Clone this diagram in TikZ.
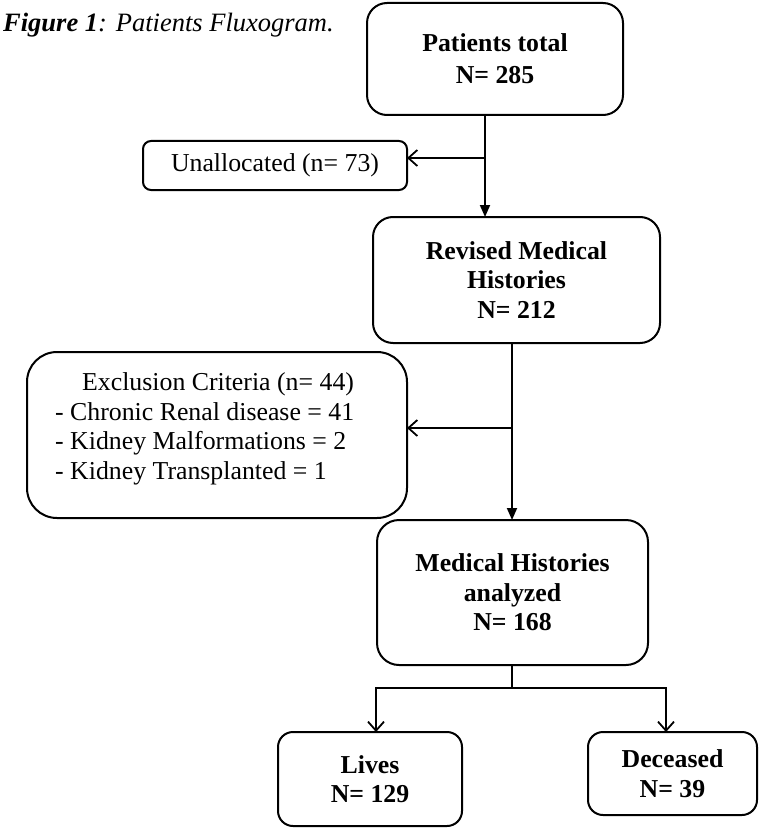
\documentclass[tikz,border=0pt]{standalone}
\usepackage{fontspec}
\setmainfont{Liberation Serif}
\usetikzlibrary{arrows.meta}
\begin{document}
\begin{tikzpicture}[x=1pt,y=-1pt,
  box/.style={draw, line width=2pt, inner sep=0pt, outer sep=0pt, align=center},
  big/.style={font=\fontsize{25.8}{29.5}\selectfont\bfseries},
  reg/.style={font=\fontsize{25.8}{29.5}\selectfont},
  fa/.style={line width=1.8pt, -{Triangle[length=12pt,width=10pt]}},
  oa/.style={line width=1.8pt, -{Straight Barb[length=9pt,width=16pt,line width=1.8pt]}},
  ln/.style={line width=1.8pt}]
\useasboundingbox (0,0) rectangle (758,829);
\node[anchor=base west, inner sep=0pt, font=\fontsize{26.5}{30}\selectfont] (title) at (3,32)
  {\textbf{\textit{Figure 1}}\textit{: Patients Fluxogram.}};
\node[box, font=\fontsize{25.8}{32}\selectfont\bfseries, rounded corners=20pt, minimum width=256pt, minimum height=112pt] (pt) at (495,59) {Patients total\\N= 285};
\node[box, reg, rounded corners=8pt, minimum width=264pt, minimum height=49pt] (un) at (275,165.5) {Unallocated (n= 73)};
\node[box, big, rounded corners=20pt, minimum width=287pt, minimum height=126pt] (rv) at (516.5,280) {Revised Medical\\Histories\\N= 212};
\node[box, rounded corners=30pt, minimum width=380pt, minimum height=166pt] (ex) at (217,435) {};
\node[reg, anchor=west, inner sep=0pt, align=left] (extext) at (55,429)
  {\hspace*{27pt}Exclusion Criteria (n= 44)\\- Chronic Renal disease = 41\\- Kidney Malformations = 2\\- Kidney Transplanted = 1};
\node[box, big, rounded corners=22pt, minimum width=271pt, minimum height=145pt] (md) at (512.5,592.5) {Medical Histories\\analyzed\\N= 168};
\node[box, big, rounded corners=15pt, minimum width=184pt, minimum height=94pt] (lv) at (370,779) {Lives\\N= 129};
\node[box, big, rounded corners=15pt, minimum width=169pt, minimum height=83pt] (dc) at (672.5,773.5) {Deceased\\N= 39};
\coordinate (j1) at (485,158);
\coordinate (j2) at (512,428);
\coordinate (j3) at (512,688);
\coordinate (bl) at (376,688);
\coordinate (br) at (666,688);
\draw[fa] (j1 |- pt.south) -- (j1 |- rv.north);
\draw[oa] (j1) -- (un.east |- j1);
\draw[fa] (j2 |- rv.south) -- (j2 |- md.north);
\draw[oa] (j2) -- (ex.east |- j2);
\draw[ln] (j3 |- md.south) -- (j3);
\draw[oa] (j3) -| (bl |- lv.north);
\draw[oa] (j3) -| (br |- dc.north);
\end{tikzpicture}
\end{document}
